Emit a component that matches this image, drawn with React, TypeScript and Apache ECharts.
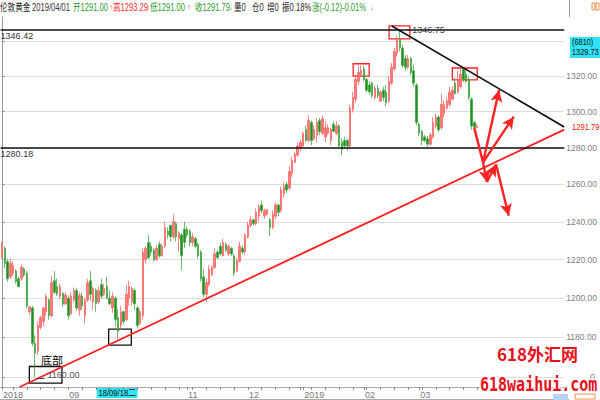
import React, { useEffect, useRef } from 'react';
import * as echarts from 'echarts';

const NARROW = "'Liberation Sans Narrow', 'Liberation Sans', 'Noto Sans CJK SC', sans-serif";
const SANS = "'Liberation Sans', 'Noto Sans CJK SC', sans-serif";
const CJK = "'Noto Sans CJK SC', sans-serif";

// ---- time axis ----
const START_DATE = '2018-07-31';
const HOLIDAYS = ['2018-12-25', '2019-01-01'];
const BLANK_SLOTS = 31;
const X_LABEL_DATES = ['2018-07-31', '2018-09-03', '2018-11-01', '2018-12-03', '2019-01-02', '2019-02-01', '2019-03-01'];
const X_LABEL_TEXTS = ['2018', '09', '11', '12', '2019', '02', '03'];
const CURSOR_DATE = '2018-09-18';
const CURSOR_TEXT = '18/09/18二';

// ---- daily candles: [open, close, low, high] ----
const OHLC: number[][] = [
  [1222, 1227.5, 1220.5, 1229.5], [1226, 1218, 1215.5, 1227], [1219, 1210, 1208.5, 1220.5], [1211, 1218, 1210, 1220.5],
  [1213, 1217, 1211.5, 1219], [1214, 1208.5, 1207.5, 1215], [1210, 1206, 1205.5, 1211], [1210, 1216, 1209, 1217.5],
  [1215, 1212, 1211, 1216], [1213, 1196, 1194.5, 1214], [1193, 1195.5, 1191.5, 1196], [1195, 1177, 1175.5, 1196],
  [1177, 1172, 1160, 1181], [1173, 1186, 1171, 1188], [1185, 1190, 1184, 1191], [1188, 1195, 1185.5, 1195.5],
  [1193, 1201, 1191, 1202], [1199, 1191, 1189, 1200], [1191, 1208, 1190, 1211.5], [1209, 1203, 1202, 1214],
  [1206, 1202, 1201, 1210], [1201, 1206, 1199.5, 1207.5], [1202.5, 1197, 1195.5, 1203], [1197, 1201.5, 1196.5, 1203],
  [1200, 1191, 1189, 1201.5], [1192, 1201, 1191.5, 1203], [1199, 1204, 1198, 1205.5], [1204, 1195, 1193.5, 1205],
  [1194, 1201.5, 1191, 1203], [1201, 1196, 1194, 1203], [1191, 1199, 1187, 1200], [1199, 1208, 1198, 1210],
  [1209, 1202, 1198.5, 1214], [1198, 1205, 1194, 1206], [1204, 1197, 1193, 1205], [1198, 1204, 1197, 1206],
  [1207, 1201, 1199.5, 1210], [1202, 1205, 1201, 1207.5], [1206, 1200, 1199.5, 1211], [1200, 1197, 1196.5, 1204],
  [1195, 1201, 1192.5, 1203], [1200, 1189, 1185.5, 1201], [1190, 1183, 1179, 1194.5], [1186, 1193, 1184, 1196],
  [1193, 1188, 1186.5, 1193.5], [1189, 1202, 1188, 1207], [1200, 1206, 1196, 1209], [1198, 1205, 1196, 1206],
  [1204, 1197, 1194, 1205], [1195, 1186, 1184.5, 1196], [1187, 1193, 1186.5, 1194.5], [1191, 1224, 1189, 1226],
  [1220, 1226, 1218, 1227], [1229, 1221, 1220.5, 1233], [1227, 1224, 1222, 1229], [1225, 1220, 1219, 1226],
  [1220, 1226, 1219.5, 1227.5], [1228, 1222, 1221, 1229.5], [1222, 1227, 1221.5, 1228.5], [1227, 1237, 1226, 1240],
  [1235, 1233, 1231, 1237], [1238, 1232, 1229.5, 1238.5], [1232, 1240, 1231, 1244], [1239, 1232, 1229.5, 1240],
  [1231, 1234, 1224, 1235], [1233, 1222, 1214.5, 1234], [1236, 1229, 1226, 1240], [1236, 1233, 1231.5, 1237.5],
  [1235, 1229, 1227, 1236], [1229, 1232, 1227, 1234], [1231, 1227, 1226, 1232], [1228, 1222, 1220.5, 1229],
  [1224, 1210, 1208.5, 1225], [1211, 1202, 1200.5, 1215], [1202, 1208, 1198, 1210], [1207, 1215, 1206, 1217],
  [1212, 1216, 1211.5, 1217], [1216, 1223, 1215, 1226], [1224, 1221, 1220.5, 1225], [1227, 1223, 1222, 1229],
  [1222, 1229, 1222, 1231], [1228, 1225, 1224, 1229], [1223, 1227, 1222, 1228], [1226, 1223, 1222, 1226.5],
  [1222, 1213, 1211.5, 1223], [1214, 1219.5, 1213.5, 1221], [1219, 1227, 1218.5, 1229.5], [1226, 1224, 1223, 1227.5],
  [1224, 1233, 1222.5, 1234], [1232, 1238, 1231, 1240], [1238, 1241, 1237, 1243], [1241, 1239, 1238, 1241.5],
  [1239, 1245, 1238, 1247], [1243, 1248, 1240, 1249.5], [1249, 1246, 1244.5, 1251], [1243, 1246, 1241.5, 1247],
  [1244, 1246.5, 1243.5, 1247], [1241, 1237, 1232.5, 1242], [1237, 1244, 1236, 1246], [1243, 1249, 1241.5, 1250.5],
  [1249, 1245, 1243, 1249.5], [1246, 1257, 1245, 1259], [1255, 1259, 1253, 1261], [1260, 1257, 1255.5, 1261.5],
  [1258, 1267, 1257, 1270], [1266, 1273, 1264, 1275], [1272, 1276.5, 1271.5, 1278], [1276, 1281, 1275, 1283],
  [1280, 1283, 1278, 1284.5], [1281, 1288, 1280.5, 1289], [1290, 1284, 1283, 1292.5], [1284, 1295, 1283, 1298],
  [1294, 1284, 1281.5, 1295], [1285, 1290, 1284, 1292.5], [1287, 1294, 1283, 1296.5], [1295, 1289, 1287, 1296.5],
  [1288, 1296, 1287, 1298], [1286, 1291, 1283, 1294.5], [1288, 1291, 1287, 1293], [1284, 1290, 1281.5, 1291],
  [1293, 1289, 1289, 1294.5], [1288, 1292, 1287, 1294.5], [1292, 1281, 1280.5, 1293], [1283, 1279, 1276, 1285],
  [1284, 1281, 1280, 1286], [1284, 1281, 1278.5, 1285], [1281, 1302, 1280, 1304], [1301, 1308, 1299.5, 1311],
  [1307, 1318, 1305, 1320.5], [1317, 1322, 1315, 1326], [1321, 1323.5, 1320, 1326], [1324, 1318, 1317, 1326],
  [1318, 1312, 1311, 1319], [1315, 1311, 1309.5, 1317], [1316, 1309, 1307.5, 1317], [1308, 1313, 1306.5, 1314.5],
  [1313, 1309, 1307.5, 1315], [1306, 1311, 1305.5, 1312], [1312, 1308, 1306, 1314], [1311, 1305, 1303, 1315],
  [1306, 1317, 1305, 1320], [1316, 1325, 1315, 1327.5], [1324, 1334, 1323, 1336], [1333, 1341, 1331, 1343],
  [1341, 1336, 1334, 1346.75], [1336, 1326, 1325, 1338], [1330, 1325, 1323, 1332], [1325, 1330, 1324, 1332],
  [1330, 1322, 1320.5, 1331], [1323, 1316, 1314, 1326.5], [1315, 1294, 1292.5, 1316], [1293, 1288, 1286.5, 1294],
  [1289, 1284, 1281.5, 1290], [1286, 1284, 1283, 1287], [1285, 1282, 1280.5, 1286.5], [1282, 1287, 1281, 1288.5],
  [1286, 1294, 1285, 1297], [1292, 1297, 1291, 1299], [1297, 1290, 1288.5, 1298], [1291, 1304, 1290, 1310],
  [1299, 1304, 1297, 1306.5], [1302, 1306, 1301, 1308], [1304, 1311, 1302.5, 1314], [1307, 1312, 1306.5, 1314],
  [1316, 1310, 1310, 1319], [1311, 1318, 1310, 1323], [1314, 1321, 1313, 1324.5], [1324, 1318, 1316.5, 1325],
  [1321, 1317, 1316, 1323.5], [1318, 1308, 1306.5, 1320], [1307, 1292, 1290, 1308], [1294, 1291.3, 1290, 1295],
  [1291.0, 1291.79, 1291.0, 1293.29],
];

// ---- price axis ----
const Y_MIN = 1155.1;
const Y_MAX = 1353.9;
const Y_GRID = [1160, 1180, 1200, 1220, 1240, 1260, 1280, 1300, 1320, 1340];
const Y_LABELS = [1180, 1200, 1220, 1240, 1260, 1280, 1300, 1320];
const LAST_CLOSE = 1291.79;
const LEVELS = [1346.42, 1280.18];

// ---- drawn annotations, in [candle position, price] ----
const RED_TREND = [[6.4, 1155.1], [203.5, 1290.0]];
const BLACK_TREND = [[141.1, 1348.7], [203.5, 1291.5]];
const RED_BOXES = [[140.1, 1348.7, 147.6, 1341.2], [127.1, 1327, 132.9, 1320], [163, 1324.6, 172, 1317.8]];
const BLACK_BOXES = [[9.9, 1165.3, 21.7, 1157], [38.6, 1184.2, 46.8, 1176]];
const ARROWS: { from: number[]; to: number[]; head: boolean }[] = [
  { from: [170.9, 1291.1], to: [174.1, 1272], head: false },
  { from: [174.1, 1272], to: [179.9, 1312.2], head: true },
  { from: [174.1, 1272], to: [185.2, 1297.2], head: true },
  { from: [174.1, 1272], to: [175.5, 1261.3], head: true },
  { from: [175.5, 1261.3], to: [178.8, 1270.9], head: true },
  { from: [178.8, 1270.9], to: [183.4, 1243.2], head: true },
];
const LOW_MARK = { text: '1160.00', at: [16.3, 1161.2], dash: [[12.4, 1159.6], [15.4, 1159.6]] };
const HIGH_MARK = { text: '1346.75', at: [148.3, 1346.3] };
const BOTTOM_TEXT = { text: '底部', at: [18.1, 1168.5] };

const HEADER = [
  { text: '伦敦黄金', x: 0, color: '#222' },
  { text: '2019/04/01', x: 32, color: '#333' },
  { text: '开1291.00', x: 73, color: '#2a9a2a' },
  { text: '↑', x: 109, color: '#f07020', small: true },
  { text: '高1293.29', x: 113, color: '#ff2a2a' },
  { text: '↓', x: 146, color: '#f07020', small: true },
  { text: '低1291.00', x: 150, color: '#2a9a2a' },
  { text: '↑', x: 187, color: '#f07020', small: true },
  { text: '收1291.79', x: 195, color: '#2a9a2a' },
  { text: '↓', x: 229, color: '#f07020', small: true },
  { text: '量0', x: 234, color: '#222' },
  { text: '仓0', x: 252, color: '#222' },
  { text: '增0', x: 267, color: '#222' },
  { text: '振0.18%', x: 282, color: '#222' },
  { text: '涨(-0.12)-0.01%', x: 312, color: '#2a9a2a' },
  { text: '↓', x: 370, color: '#f07020', small: true },
];

export default function App() {
  const ref = useRef<HTMLDivElement>(null);
  useEffect(() => {
    document.body.style.margin = '0';
    const chart = echarts.init(ref.current!, null, { renderer: 'svg' });

    const total = OHLC.length + BLANK_SLOTS;
    const cats: string[] = [];
    const d = new Date(START_DATE + 'T00:00:00Z');
    while (cats.length < total) {
      const s = d.toISOString().slice(0, 10);
      const wd = d.getUTCDay();
      if (wd !== 0 && wd !== 6 && !HOLIDAYS.includes(s)) cats.push(s);
      d.setUTCDate(d.getUTCDate() + 1);
    }
    const labelMap: Record<number, string> = {};
    X_LABEL_DATES.forEach((s, i) => { labelMap[cats.indexOf(s)] = X_LABEL_TEXTS[i]; });
    const tickSet = new Set<number>();
    cats.forEach((s, i) => {
      if (new Date(s + 'T00:00:00Z').getUTCDay() === 1 || labelMap[i] !== undefined) tickSet.add(i);
    });

    const red = '#ff2222';
    const labelPoint = (text: string, at: number[], extra: any) => ({
      coord: at, value: text, symbol: 'rect', symbolSize: 1,
      itemStyle: { color: 'rgba(0,0,0,0)' },
      label: { show: true, formatter: text, ...extra },
    });

    chart.setOption({
      animation: false,
      backgroundColor: '#ffffff',
      grid: { left: 0, right: 31, top: 17, bottom: 13 },
      xAxis: [
        {
          type: 'category', data: cats, boundaryGap: true,
          axisLine: { show: true, lineStyle: { color: '#aaaaaa' } },
          axisTick: { show: true, length: 3, alignWithLabel: true, interval: (i: number) => tickSet.has(i), lineStyle: { color: '#888' } },
          axisLabel: {
            interval: (i: number) => labelMap[i] !== undefined,
            formatter: (_v: string, i: number) => labelMap[i] || '',
            align: 'left', margin: 3, fontSize: 9, color: '#777', fontFamily: NARROW, padding: [0, 0, 0, 1],
          },
          splitLine: { show: false },
        },
        { type: 'value', min: -0.5, max: total - 0.5, show: false },
      ],
      yAxis: {
        type: 'log', logBase: 10, position: 'right', min: Y_MIN, max: Y_MAX,
        axisLine: { show: true, lineStyle: { color: '#999' } },
        axisTick: { show: true, length: 3, customValues: Y_GRID, lineStyle: { color: '#999' } },
        axisLabel: { customValues: Y_LABELS, formatter: (v: number) => Number(v).toFixed(2), fontSize: 8.5, color: '#808080', margin: 2, fontFamily: NARROW },
        splitLine: { show: true, lineStyle: { color: '#dddddd', width: 1 } },
      },
      series: [
        {
          type: 'candlestick', name: 'gold', xAxisIndex: 0, data: OHLC.map((c) => [c[0], c[1], c[2], c[3]]),
          barWidth: 2,
          itemStyle: { color: '#ff7a7a', color0: '#1f8f1f', borderColor: '#ff6666', borderColor0: '#45a845', borderWidth: 0.8 },
          markLine: {
            silent: true, symbol: ['none', 'none'],
            data: [
              ...LEVELS.map((v) => ({
                yAxis: v, lineStyle: { color: '#111', width: 1.6, type: 'solid' },
                label: { show: true, position: 'insideStartBottom', formatter: v.toFixed(2), color: '#333', fontSize: 9, fontFamily: NARROW, distance: [0, 2] },
              })),
            ],
          },
        },
        {
          type: 'line', name: 'support', xAxisIndex: 1, data: RED_TREND, symbol: 'none', silent: true,
          lineStyle: { color: red, width: 1.9 },
        },
        {
          type: 'line', name: 'resistance', xAxisIndex: 1, data: BLACK_TREND, symbol: 'none', silent: true,
          lineStyle: { color: '#111', width: 1.6 },
        },
        {
          type: 'line', name: 'marks', xAxisIndex: 1, data: [], symbol: 'none', silent: true,
          markArea: {
            silent: true,
            data: [
              ...RED_BOXES.map((b) => [
                { coord: [b[0], b[1]], itemStyle: { color: 'rgba(0,0,0,0)', borderColor: red, borderWidth: 1.3 } },
                { coord: [b[2], b[3]] },
              ]),
              ...BLACK_BOXES.map((b) => [
                { coord: [b[0], b[1]], itemStyle: { color: 'rgba(0,0,0,0)', borderColor: '#111', borderWidth: 1.3 } },
                { coord: [b[2], b[3]] },
              ]),
            ],
          },
          markLine: {
            silent: true, symbolSize: [9, 12], label: { show: false },
            data: [
              ...ARROWS.map((a) => [
                { coord: a.from, symbol: 'none', lineStyle: { color: red, width: 2.4, type: 'solid' } },
                { coord: a.to, symbol: a.head ? 'arrow' : 'none' },
              ]),
              [
                { coord: LOW_MARK.dash[0], symbol: 'none', lineStyle: { color: '#444', width: 1, type: 'solid' } },
                { coord: LOW_MARK.dash[1], symbol: 'none' },
              ],
            ],
          },
          markPoint: {
            silent: true,
            data: [
              labelPoint(BOTTOM_TEXT.text, BOTTOM_TEXT.at, { position: 'inside', color: '#000', fontSize: 11, fontFamily: CJK }),
              labelPoint(LOW_MARK.text, LOW_MARK.at, { position: 'right', distance: 0, color: '#555', fontSize: 9, fontFamily: NARROW }),
              labelPoint(HIGH_MARK.text, HIGH_MARK.at, { position: 'right', distance: 0, color: '#444', fontSize: 9, fontFamily: NARROW }),
            ],
          },
        },
      ],
    });

    const cursorX = chart.convertToPixel({ xAxisIndex: 0 }, CURSOR_DATE) as number;
    const closeY = chart.convertToPixel({ yAxisIndex: 0 }, LAST_CLOSE) as number;
    const header = HEADER.map((h) => ({
      type: 'text', x: h.x, y: 3, scaleX: (h as any).small ? 1 : 0.76,
      style: { text: h.text, fill: h.color, font: `${(h as any).small ? 8 : 10}px ${SANS}` },
      silent: true,
    }));

    chart.setOption({
      graphic: [
        ...header,
        { type: 'line', shape: { x1: 569.5, y1: 0, x2: 569.5, y2: 17 }, style: { stroke: '#999', lineWidth: 1 }, silent: true },
        { type: 'rect', shape: { x: 592, y: 3, width: 3, height: 7 }, style: { fill: 'none', stroke: '#f08a4a', lineWidth: 1 }, silent: true },
        { type: 'rect', shape: { x: 596, y: 3, width: 3, height: 7 }, style: { fill: 'none', stroke: '#f08a4a', lineWidth: 1 }, silent: true },
        { type: 'rect', shape: { x: 570, y: 37, width: 30, height: 21 }, style: { fill: '#2fe3f2' }, silent: true },
        { type: 'text', x: 572, y: 38, scaleX: 0.82, style: { text: '(6810)', fill: '#112', font: `9px ${SANS}` }, silent: true },
        { type: 'text', x: 572, y: 48, scaleX: 0.82, style: { text: '1329.73', fill: '#112', font: `9px ${SANS}` }, silent: true },
        {
          type: 'text', x: 572, y: closeY, scaleX: 0.85,
          style: { text: LAST_CLOSE.toFixed(2), fill: '#ff2020', font: `9px ${SANS}`, verticalAlign: 'middle', backgroundColor: '#f4fff4' },
          silent: true,
        },
        { type: 'text', x: 590, y: 372, style: { text: '0', fill: '#888', font: `9px ${SANS}` }, silent: true },
        {
          type: 'text', x: cursorX - 2, y: 387, scaleX: 0.85,
          style: { text: CURSOR_TEXT, fill: '#111', font: `9px ${SANS}`, backgroundColor: '#2fe3f2', padding: [1, 2, 1, 2] },
          silent: true,
        },
        { type: 'line', shape: { x1: 0, y1: 399.5, x2: 569, y2: 399.5 }, style: { stroke: '#aaa', lineWidth: 1 }, silent: true },
        { type: 'rect', shape: { x: 553, y: 394, width: 15, height: 6 }, style: { fill: '#b9d3f2' }, silent: true },
        { type: 'rect', shape: { x: 575, y: 394, width: 20, height: 5 }, style: { fill: 'none', stroke: '#f08a4a', lineWidth: 1 }, silent: true },
        {
          type: 'text', x: 497, y: 345, z: 100,
          style: { text: '618外汇网', fill: '#e8101a', stroke: '#ffffff', lineWidth: 2, font: `bold 17px ${CJK}` },
          silent: true,
        },
        {
          type: 'text', x: 480, y: 375, z: 100, scaleY: 1.25,
          style: { text: '618waihui.com', fill: '#e8101a', stroke: '#ffffff', lineWidth: 2, font: "bold 15px 'DejaVu Sans Mono', monospace" },
          silent: true,
        },
      ],
    });

    return () => chart.dispose();
  }, []);

  return <div ref={ref} style={{ width: 600, height: 400 }} />;
}
